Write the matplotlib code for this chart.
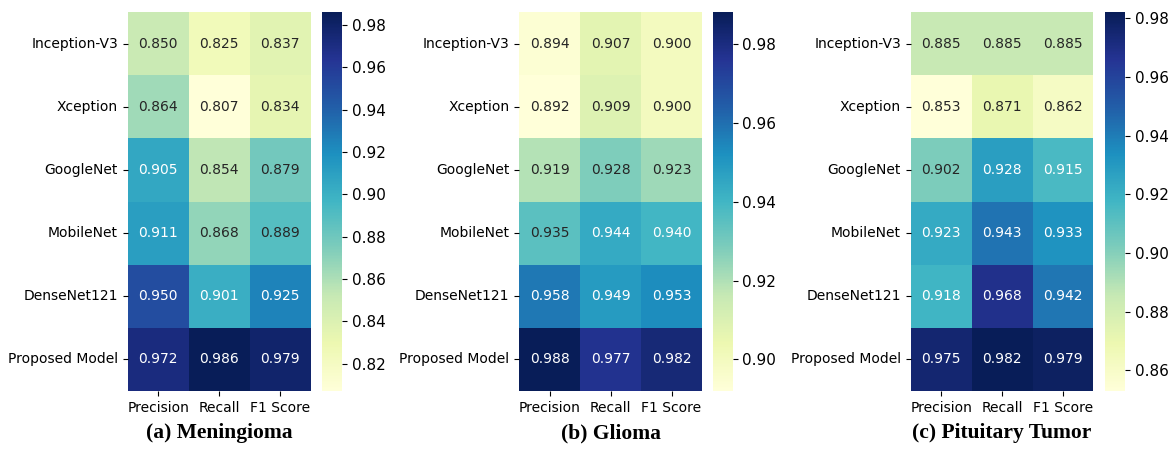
import matplotlib
matplotlib.use("Agg")
import matplotlib.pyplot as plt
import numpy as np
import seaborn as sns

models = ["Inception-V3", "Xception", "GoogleNet", "MobileNet", "DenseNet121", "Proposed Model"]
metrics = ["Precision", "Recall", "F1 Score"]

meningioma = [
    [0.850, 0.825, 0.837],
    [0.864, 0.807, 0.834],
    [0.905, 0.854, 0.879],
    [0.911, 0.868, 0.889],
    [0.950, 0.901, 0.925],
    [0.972, 0.986, 0.979],
]
glioma = [
    [0.894, 0.907, 0.900],
    [0.892, 0.909, 0.900],
    [0.919, 0.928, 0.923],
    [0.935, 0.944, 0.940],
    [0.958, 0.949, 0.953],
    [0.988, 0.977, 0.982],
]
pituitary = [
    [0.885, 0.885, 0.885],
    [0.853, 0.871, 0.862],
    [0.902, 0.928, 0.915],
    [0.923, 0.943, 0.933],
    [0.918, 0.968, 0.942],
    [0.975, 0.982, 0.979],
]
titles = ["(a) Meningioma", "(b) Glioma", "(c) Pituitary Tumor"]

fig = plt.figure(figsize=(11.72, 4.5), dpi=100)

panels = [
    (meningioma, 0.109, 0.275),
    (glioma, 0.443, 0.608),
    (pituitary, 0.777, 0.943),
]
bottom, height = 0.131, 0.842

for i, ((data, left, cleft), title) in enumerate(zip(panels, titles)):
    ax = fig.add_axes([left, bottom, 0.156, height])
    cax = fig.add_axes([cleft, bottom, 0.017, height])
    sns.heatmap(np.array(data), ax=ax, cbar_ax=cax, cmap="YlGnBu",
                annot=True, fmt=".3f", annot_kws={"size": 10},
                xticklabels=metrics, yticklabels=models)
    ax.tick_params(labelsize=10)
    ax.set_yticklabels(models, rotation=0)
    ax.set_xticklabels(metrics, rotation=0)
    cax.tick_params(labelsize=11)
    if i == 1:
        # the 0.935 cell uses dark text in the original
        ax.texts[9].set_color("#262626")
    ax.text(0.5, -0.111, title, transform=ax.transAxes, ha="center", va="center",
            fontsize=15.5, fontweight="bold", family="Liberation Serif")

fig.savefig("out.png", dpi=100)
